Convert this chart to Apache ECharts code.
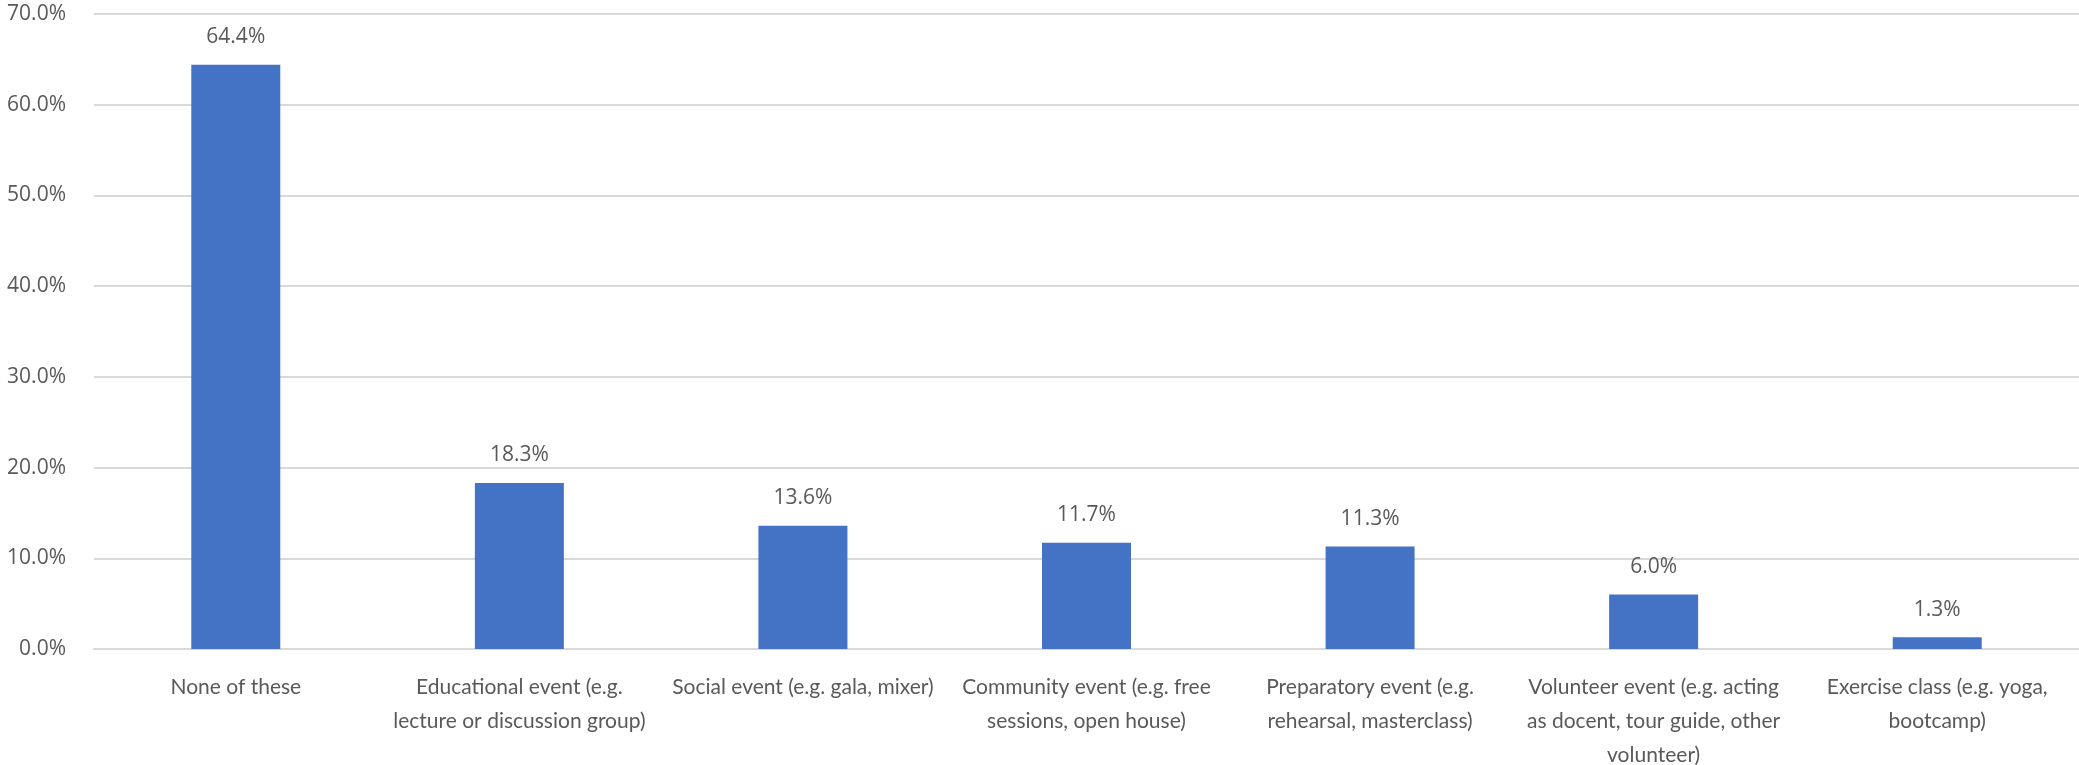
<!DOCTYPE html>
<html>
<head>
<meta charset="utf-8">
<script src="https://cdn.jsdelivr.net/npm/echarts@6/dist/echarts.min.js"></script>
<style>
html,body{margin:0;padding:0;background:#fff;}
#chart{width:2079px;height:765px;}
</style>
</head>
<body>
<div id="chart"></div>
<script>
const categories = [
  "None of these",
  "Educational event (e.g.\nlecture or discussion group)",
  "Social event (e.g. gala, mixer)",
  "Community event (e.g. free\nsessions, open house)",
  "Preparatory event (e.g.\nrehearsal, masterclass)",
  "Volunteer event (e.g. acting\nas docent, tour guide, other\nvolunteer)",
  "Exercise class (e.g. yoga,\nbootcamp)"
];
const values = [64.4, 18.3, 13.6, 11.7, 11.3, 6.0, 1.3];
const yTicks = { min: 0, max: 70, interval: 10 };

const textColor = '#595959';
const chart = echarts.init(document.getElementById('chart'), null, {renderer: 'canvas'});
chart.setOption({
  animation: false,
  grid: { left: 94, right: 0, top: 14, bottom: 116, containLabel: false, outerBoundsMode: 'none' },
  xAxis: {
    type: 'category',
    data: categories,
    axisLine: { show: true, lineStyle: { color: '#D9D9D9', width: 2 } },
    axisTick: { show: false },
    axisLabel: {
      interval: 0,
      color: textColor,
      fontFamily: 'Lato',
      fontSize: 21,
      lineHeight: 34,
      margin: 21,
      align: 'center'
    }
  },
  yAxis: {
    type: 'value',
    min: yTicks.min, max: yTicks.max, interval: yTicks.interval,
    axisLine: { show: false },
    axisTick: { show: false },
    splitLine: { lineStyle: { color: '#D9D9D9', width: 2 } },
    axisLabel: {
      color: textColor,
      fontFamily: 'Open Sans',
      fontSize: 21,
      margin: 28,
      formatter: v => v.toFixed(1) + '%'
    }
  },
  series: [{
    type: 'bar',
    data: values,
    barWidth: 89,
    itemStyle: { color: '#4472C4' },
    label: {
      show: true,
      position: 'top',
      distance: 17,
      color: textColor,
      fontFamily: 'Open Sans',
      fontSize: 21,
      formatter: p => p.value.toFixed(1) + '%'
    }
  }]
});
</script>
</body>
</html>
